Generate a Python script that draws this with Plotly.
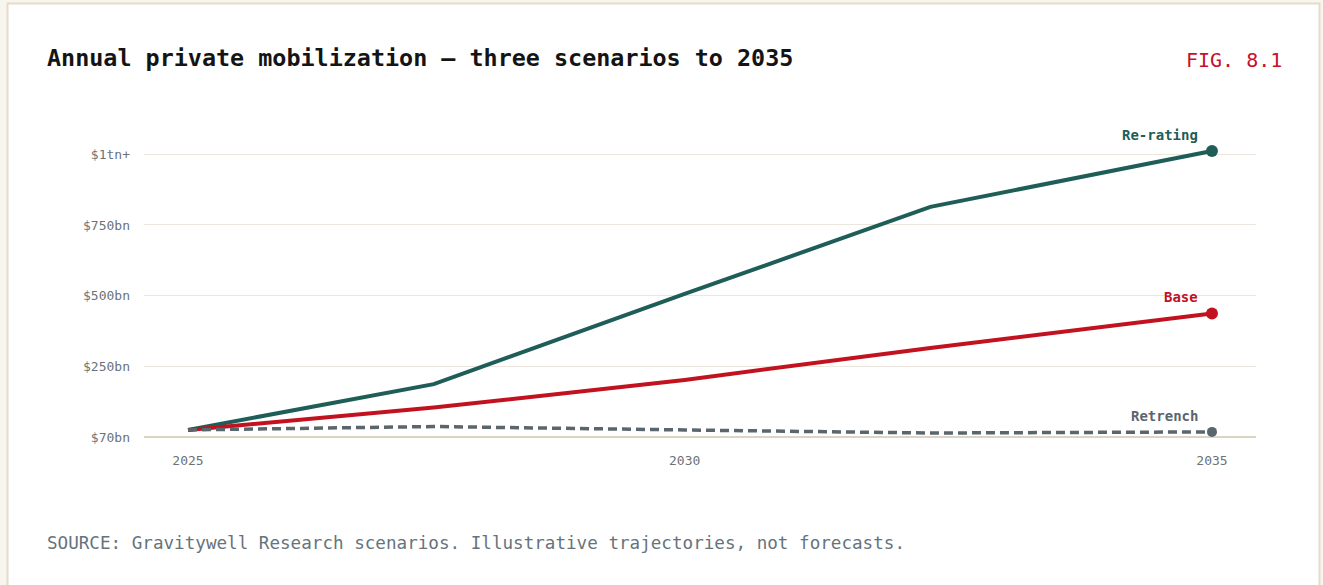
import plotly.graph_objects as go

# ---- data ----
years = [2025, 2027.4, 2029.85, 2032.25, 2035]
year_labels = ["2025", "", "2030", "", "2035"]
rerating = [25, 187, 506, 814, 1012]
base = [25, 104, 202, 315, 437]
retrench = [25, 37, 25, 14, 18]

y_ticks = [0, 250, 500, 750, 1000]
y_ticktext = ["$70bn", "$250bn", "$500bn", "$750bn", "$1tn+"]

series = [
    ("Re-rating", rerating, "#1f5d58", "solid", 12),
    ("Base", base, "#c2121f", "solid", 12),
    ("Retrench", retrench, "#5a666e", "9px,5px", 10),
]

W, H = 1323, 585
ML, MR, MT, MB = 144, 67, 130, 148
PW, PH = W - ML - MR, H - MT - MB
FONT = "DejaVu Sans Mono"


def px(x):
    return (x - ML) / PW


def py(y):
    return (H - MB - y) / PH


fig = go.Figure()
for name, vals, color, dash, msize in series:
    fig.add_trace(go.Scatter(
        x=years, y=vals, mode="lines", name=name,
        line=dict(color=color, width=4 if dash == "solid" else 3.5, dash=dash),
        hoverinfo="skip", showlegend=False,
    ))
    fig.add_trace(go.Scatter(
        x=[years[-1]], y=[vals[-1]], mode="markers",
        marker=dict(color=color, size=msize),
        hoverinfo="skip", showlegend=False,
    ))
    fig.add_annotation(
        x=years[-1], y=vals[-1], text=f"<b>{name}</b>", showarrow=False,
        xanchor="right", yanchor="middle", xshift=-12, yshift=16,
        font=dict(family=FONT, size=14, color=color),
    )

# card background
fig.add_shape(type="rect", xref="paper", yref="paper", layer="below",
              x0=px(7.5), x1=px(1319.5), y0=py(620), y1=py(3.5),
              line=dict(color="#e4dccb", width=2), fillcolor="#ffffff")

fig.add_annotation(xref="paper", yref="paper", x=px(45), y=py(58),
                   xanchor="left", yanchor="middle", showarrow=False,
                   text="<b>Annual private mobilization — three scenarios to 2035</b>",
                   font=dict(family=FONT, size=23.4, color="#141414"))
fig.add_annotation(xref="paper", yref="paper", x=px(1284), y=py(60),
                   xanchor="right", yanchor="middle", showarrow=False,
                   text="FIG. 8.1",
                   font=dict(family=FONT, size=20, color="#c8102e"))
fig.add_annotation(xref="paper", yref="paper", x=px(45), y=py(543),
                   xanchor="left", yanchor="middle", showarrow=False,
                   text="SOURCE: Gravitywell Research scenarios. Illustrative trajectories, not forecasts.",
                   font=dict(family=FONT, size=17.6, color="#66737b"))

tick_vals = [y for y, t in zip(years, year_labels) if t]
tick_text = [t for t in year_labels if t]

fig.update_layout(
    width=W, height=H,
    margin=dict(l=ML, r=MR, t=MT, b=MB, pad=0),
    paper_bgcolor="#f8f5ee", plot_bgcolor="rgba(0,0,0,0)",
    font=dict(family=FONT, color="#6b7379"),
    xaxis=dict(range=[2024.57, 2035.43], tickvals=tick_vals, ticktext=tick_text,
               showgrid=False, zeroline=False, showline=False,
               tickfont=dict(size=13, color="#6b7379"), ticklabelstandoff=14,
               fixedrange=True),
    yaxis=dict(range=[0, 1086], tickvals=y_ticks, ticktext=y_ticktext,
               showgrid=True, gridcolor="#ece7de", gridwidth=1,
               zeroline=True, zerolinecolor="#dcd4c4", zerolinewidth=2,
               showline=False, tickfont=dict(size=13, color="#6b7379"),
               ticklabelstandoff=13, fixedrange=True),
)

fig.write_html("out.html")
